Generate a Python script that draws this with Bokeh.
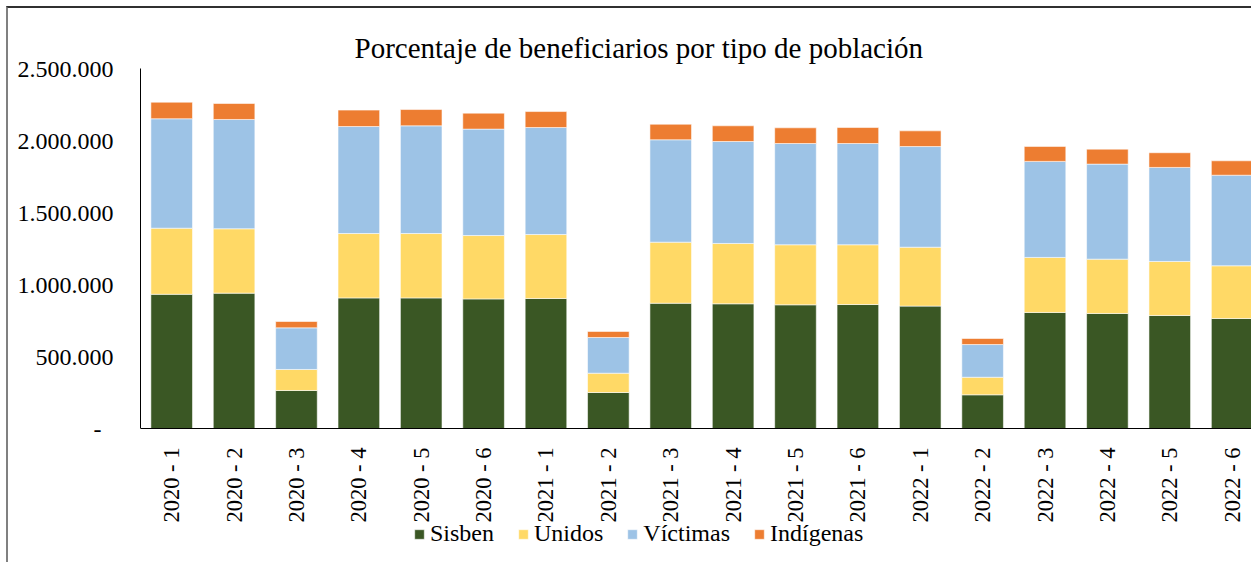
import math
from bokeh.plotting import figure
from bokeh.models import ColumnDataSource, FixedTicker, Range1d, Legend, LegendItem
from bokeh.embed import file_html
from bokeh.resources import INLINE

categories = ["2020 - 1", "2020 - 2", "2020 - 3", "2020 - 4", "2020 - 5", "2020 - 6",
              "2021 - 1", "2021 - 2", "2021 - 3", "2021 - 4", "2021 - 5", "2021 - 6",
              "2022 - 1", "2022 - 2", "2022 - 3", "2022 - 4", "2022 - 5", "2022 - 6"]
sisben = [932000, 940000, 264000, 907000, 907000, 900000, 903000, 250000, 870000,
          866000, 859000, 861000, 850000, 234000, 806000, 799000, 785000, 764000]
unidos = [459000, 447000, 146000, 447000, 447000, 440000, 444000, 134000, 424000,
          419000, 417000, 415000, 409000, 122000, 382000, 377000, 375000, 366000]
victimas = [760000, 759000, 289000, 743000, 748000, 739000, 743000, 248000, 711000,
            708000, 703000, 703000, 699000, 227000, 667000, 660000, 653000, 629000]
indigenas = [115000, 111000, 44000, 114000, 113000, 111000, 111000, 42000, 108000,
             109000, 109000, 111000, 109000, 42000, 104000, 104000, 102000, 100000]
series = ["Sisben", "Unidos", "Víctimas", "Indígenas"]
colors = ["#3A5724", "#FFD966", "#9DC3E6", "#ED7D31"]
y_ticks = [0, 500000, 1000000, 1500000, 2000000, 2500000]
y_tick_labels = ["-\u00a0\u00a0", "500.000", "1.000.000", "1.500.000", "2.000.000", "2.500.000"]
title_text = "Porcentaje de beneficiarios por tipo de población"

FONT = "Liberation Serif"
xs = list(range(len(categories)))
source = ColumnDataSource(dict(x=xs, Sisben=sisben, Unidos=unidos, **{"Víctimas": victimas, "Indígenas": indigenas}))

W, H = 1245, 556
PX_PER_UNIT = 144 / 1e6
p = figure(width=W, height=H, output_backend="svg", toolbar_location=None,
           x_range=Range1d(-0.5, -0.5 + (1253 - 140) / 62.38),
           y_range=Range1d(-(564 - 428) / PX_PER_UNIT, 2500000),
           min_border_left=132, min_border_right=0, min_border_top=60, min_border_bottom=0,
           title=title_text)
p.styles = {"border-left": "2px solid #808080", "border-top": "2px solid #303030",
            "margin-left": "6px", "margin-top": "6px"}
p.outline_line_color = None
p.xgrid.grid_line_color = None
p.ygrid.grid_line_color = None

p.title.text_font = FONT
p.title.text_font_size = "29px"
p.title.text_font_style = "normal"
p.title.text_color = "black"
p.title.align = "left"
p.title.offset = 214
p.title.standoff = 10

renderers = p.vbar_stack(series, x="x", width=0.667, source=source, color=colors,
                         line_color="white", line_width=0.8, line_alpha=0.7)

# y axis
yax = p.yaxis[0]
yax.ticker = FixedTicker(ticks=y_ticks)
yax.bounds = (0, 2500000)
yax.major_label_overrides = {t: l for t, l in zip(y_ticks, y_tick_labels)}
yax.major_tick_out = 0
yax.major_tick_in = 0
yax.minor_tick_out = 0
yax.minor_tick_in = 0
yax.major_label_standoff = 27
yax.axis_line_color = "black"
yax.major_label_text_font = FONT
yax.major_label_text_font_size = "24px"
yax.major_label_text_color = "black"

# x axis
xax = p.xaxis[0]
xax.fixed_location = 0
xax.ticker = FixedTicker(ticks=xs)
xax.major_label_overrides = {i: c for i, c in zip(xs, categories)}
xax.major_label_orientation = math.pi / 2
xax.major_tick_out = 0
xax.major_tick_in = 0
xax.minor_tick_out = 0
xax.minor_tick_in = 0
xax.major_label_standoff = 19
xax.axis_line_color = "black"
xax.major_label_text_font = FONT
xax.major_label_text_font_size = "22.5px"
xax.major_label_text_color = "black"

legend = Legend(items=[LegendItem(label=s, renderers=[r]) for s, r in zip(series, renderers)],
                orientation="horizontal", location=(273, 17),
                glyph_width=12, glyph_height=12, label_standoff=5, spacing=23,
                padding=0, margin=0, border_line_color=None, background_fill_alpha=0,
                label_text_font=FONT, label_text_font_size="24px", label_text_color="black")
p.add_layout(legend, "center")

open("out.html", "w").write(file_html(p, INLINE))
